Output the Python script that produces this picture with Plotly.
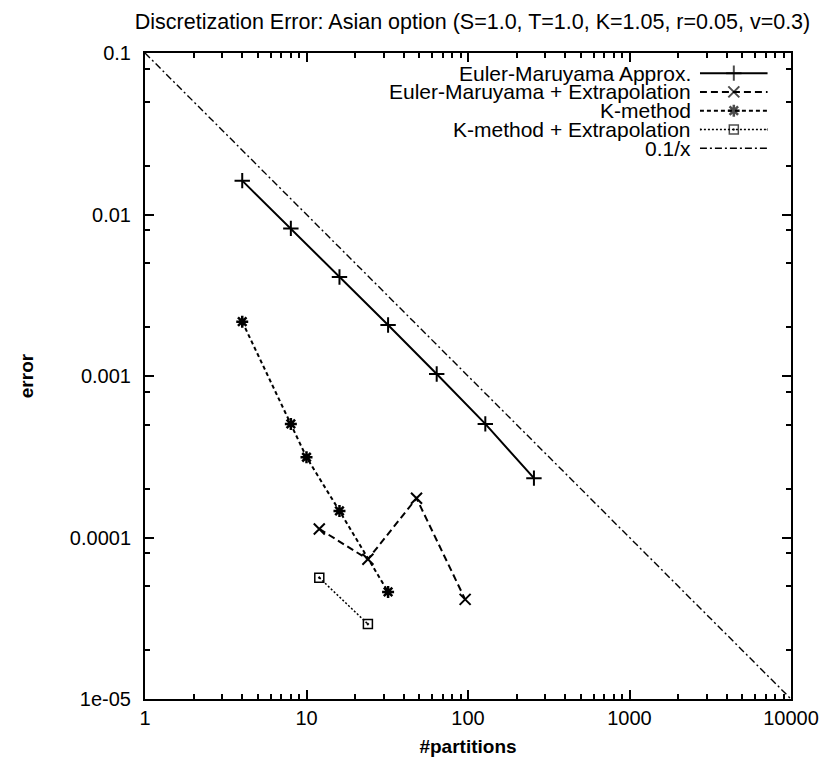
import plotly.graph_objects as go

# ---------------- data ----------------
euler_x = [4, 8, 16, 32, 64, 128, 256]
euler_err = [0.0162, 0.0082, 0.0041, 0.00207, 0.00103, 0.000505, 0.000233]

em_ext_x = [12, 24, 48, 96]
em_ext_err = [0.000113, 0.0000733, 0.000175, 0.0000414]

k_x = [4, 8, 10, 16, 32]
k_err = [0.00217, 0.000505, 0.000314, 0.000146, 0.000046]

k_ext_x = [12, 24]
k_ext_err = [0.0000564, 0.0000291]

ref_x = [1, 10000]
ref_err = [0.1 / v for v in ref_x]

x_tickvals = [1, 10, 100, 1000, 10000]
x_ticktext = ["1", "10", "100", "1000", "10000"]
y_tickvals = [0.1, 0.01, 0.001, 0.0001, 0.00001]
y_ticktext = ["0.1", "0.01", "0.001", "0.0001", "1e-05"]

legend_labels = [
    "Euler-Maruyama Approx.",
    "Euler-Maruyama + Extrapolation",
    "K-method",
    "K-method + Extrapolation",
    "0.1/x",
]

FONT = "Liberation Sans, Arial, sans-serif"

styles = [
    dict(line=dict(color="black", width=2, dash="solid"),
         marker=dict(symbol="cross-thin-open", size=11, line=dict(color="black", width=2))),
    dict(line=dict(color="black", width=2, dash="7px,4px"),
         marker=dict(symbol="x-thin-open", size=11, line=dict(color="black", width=2))),
    dict(line=dict(color="black", width=2, dash="4px,3px"),
         marker=dict(symbol="asterisk-open", size=10, line=dict(color="black", width=2.5))),
    dict(line=dict(color="black", width=1.5, dash="2px,2px"),
         marker=dict(symbol="square-open-dot", size=9, line=dict(color="black", width=1.5))),
    dict(line=dict(color="black", width=1.4, dash="7px,3px,2px,3px"),
         marker=dict(symbol="circle", size=0)),
]

series = [
    (euler_x, euler_err, "lines+markers"),
    (em_ext_x, em_ext_err, "lines+markers"),
    (k_x, k_err, "lines+markers"),
    (k_ext_x, k_ext_err, "lines+markers"),
    (ref_x, ref_err, "lines"),
]

fig = go.Figure()
for (xs, ys, mode), st, name in zip(series, styles, legend_labels):
    fig.add_trace(go.Scatter(x=xs, y=ys, mode=mode, name=name,
                             line=st["line"], marker=st["marker"],
                             showlegend=False, cliponaxis=True))

# custom gnuplot-style legend (text left, sample right)
for i, (name, st) in enumerate(zip(legend_labels, styles)):
    msize = st["marker"]["size"]
    fig.add_trace(go.Scatter(
        x=[0, 0.5, 1], y=[-i, -i, -i], xaxis="x2", yaxis="y2",
        mode="lines+markers", showlegend=False, hoverinfo="skip",
        line=st["line"],
        marker=dict(symbol=st["marker"]["symbol"], size=[0, msize, 0],
                    line=st["marker"].get("line", dict(width=0)), color="black"),
    ))
    fig.add_annotation(x=0.848, xref="paper", y=-i, yref="y2",
                       text=name, showarrow=False, xanchor="right", yanchor="middle",
                       font=dict(family=FONT, size=21, color="black"))

minor_x = [m * 10 ** d for d in range(0, 4) for m in range(2, 10)]
minor_y = [m * 10 ** d for d in range(-5, -1) for m in (2, 5, 8)]

axis_common = dict(
    type="log", showgrid=False, zeroline=False, showline=True,
    linecolor="black", linewidth=2, mirror="allticks",
    ticks="inside", ticklen=9, tickwidth=1.5, tickcolor="black",
    tickfont=dict(family=FONT, size=20, color="black"),
    automargin=False,
)

fig.update_layout(
    width=822, height=765,
    margin=dict(l=145, r=31, t=53, b=66),
    paper_bgcolor="white", plot_bgcolor="white",
    font=dict(family=FONT, color="black"),
    title=dict(text="Discretization Error: Asian option (S=1.0, T=1.0, K=1.05, r=0.05, v=0.3)",
               x=0.507, xref="paper", xanchor="center",
               y=1 - 21 / 765, yref="container", yanchor="middle",
               font=dict(family=FONT, size=21.5, color="black")),
    xaxis=dict(**axis_common, range=[0, 4],
               tickvals=x_tickvals, ticktext=x_ticktext,
               minor=dict(tickvals=minor_x, ticks="inside", ticklen=5,
                          tickwidth=1.5, tickcolor="black", showgrid=False),
               title=dict(text="<b>#partitions</b>", standoff=12,
                          font=dict(family=FONT, size=19, color="black"))),
    yaxis=dict(**axis_common, range=[-5, -1],
               tickvals=y_tickvals, ticktext=y_ticktext,
               ticklabelstandoff=8,
               minor=dict(tickvals=minor_y, ticks="inside", ticklen=5,
                          tickwidth=1.5, tickcolor="black", showgrid=False),
               title=dict(text="<b>error</b>", standoff=31,
                          font=dict(family=FONT, size=19, color="black"))),
    xaxis2=dict(domain=[0.859, 0.964], anchor="y2", range=[0, 1], visible=False),
    yaxis2=dict(domain=[0.834, 0.989], anchor="x2", range=[-4.64, 0.6933], visible=False),
)

fig.write_html("out.html")
